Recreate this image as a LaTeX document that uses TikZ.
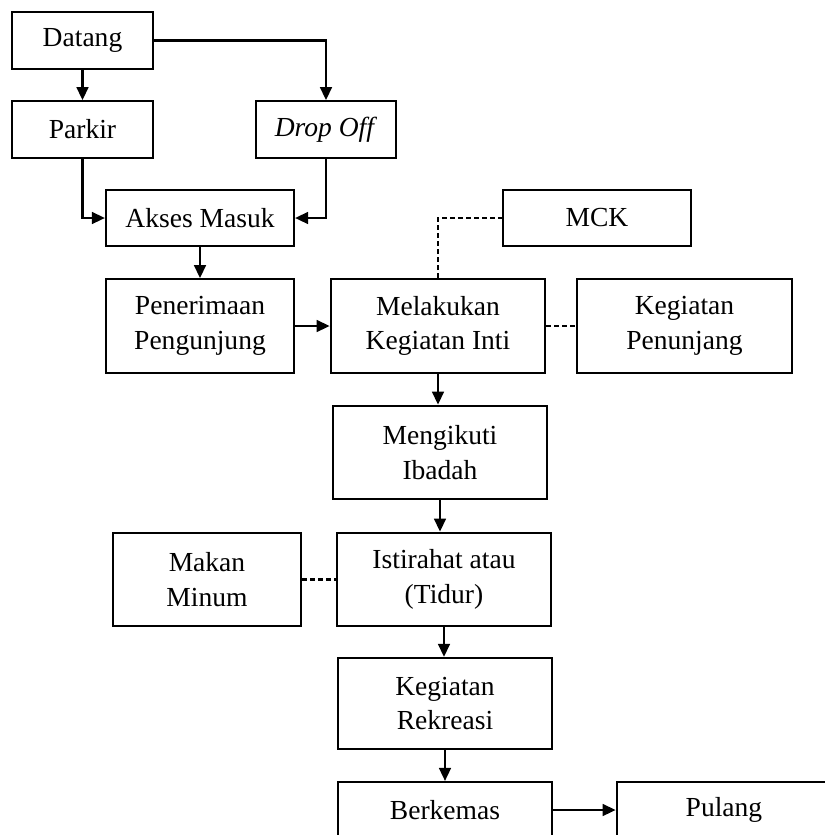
\documentclass[tikz,border=0pt]{standalone}
\usepackage{fontspec}
\setmainfont{Liberation Serif}
\usetikzlibrary{arrows.meta}
\tikzset{
  box/.style={draw, line width=0.9pt, align=center, inner sep=1pt,
    font=\fontsize{12.7}{16}\selectfont, minimum width=3.48cm, minimum height=1.52cm},
  smallbox/.style={box, minimum width=2.28cm, minimum height=0.92cm},
  midbox/.style={box, minimum width=3.05cm, minimum height=0.91cm},
  link/.style={line width=1pt, dash pattern=on 2.3pt off 1.4pt},
}
\begin{document}
\begin{tikzpicture}[x=0.0162cm, y=-0.0162cm, line width=1pt,
                    >={Triangle[length=0.21cm, width=0.19cm]}]
                      \clip (0,0) rectangle (825,835);
                      \node[smallbox] (datang) at (82.5,40.5) {Datang};
                      \node[smallbox] (parkir) at (82.5,129.5) {Parkir};
                      \node[smallbox] (dropoff) at (326,129.5) {\textit{Drop Off}};
                      \node[midbox] (akses) at (200,218) {Akses Masuk};
                      \node[midbox] (mck) at (597,218) {MCK};
                      \node[box, minimum width=3.05cm] (terima) at (200,326) {Penerimaan\\Pengunjung};
                      \node[box] (inti) at (438,326) {Melakukan\\Kegiatan Inti};
                      \node[box] (penunjang) at (684.5,326) {Kegiatan\\Penunjang};
                      \node[box] (ibadah) at (440,452.5) {Mengikuti\\Ibadah};
                      \node[box] (istirahat) at (444,579.5) {Istirahat atau\\(Tidur)};
                      \node[box, minimum width=3.05cm] (makan) at (207,579.5) {Makan\\Minum};
                      \node[box, minimum height=1.48cm] (rekreasi) at (445,703.5) {Kegiatan\\Rekreasi};
                      \node[box, minimum height=0.91cm] (berkemas) at (445,810) {Berkemas};
                      \node[box, minimum height=0.91cm] (pulang) at (724,810) {Pulang};

                      \draw[->] (datang) -- (parkir);
                      \draw[->] (datang.east) -| (dropoff.north);
                      \draw[->] (parkir.south) |- (akses.west);
                      \draw[->] (dropoff.south) |- (akses.east);
                      \draw[->] (akses) -- (terima);
                      \draw[->] (terima) -- (inti);
                      \draw[link] (inti.north) |- (mck.west);
                      \draw[link] (inti) -- (penunjang);
                      \draw[->] (inti.south) -- (inti.south |- ibadah.north);
                      \draw[->] (ibadah.south) -- (ibadah.south |- istirahat.north);
                      \draw[link] (makan) -- (istirahat);
                      \draw[->] (istirahat.south) -- (istirahat.south |- rekreasi.north);
                      \draw[->] (rekreasi.south) -- (rekreasi.south |- berkemas.north);
                      \draw[->] (berkemas) -- (pulang);
                    \end{tikzpicture}
\end{document}
